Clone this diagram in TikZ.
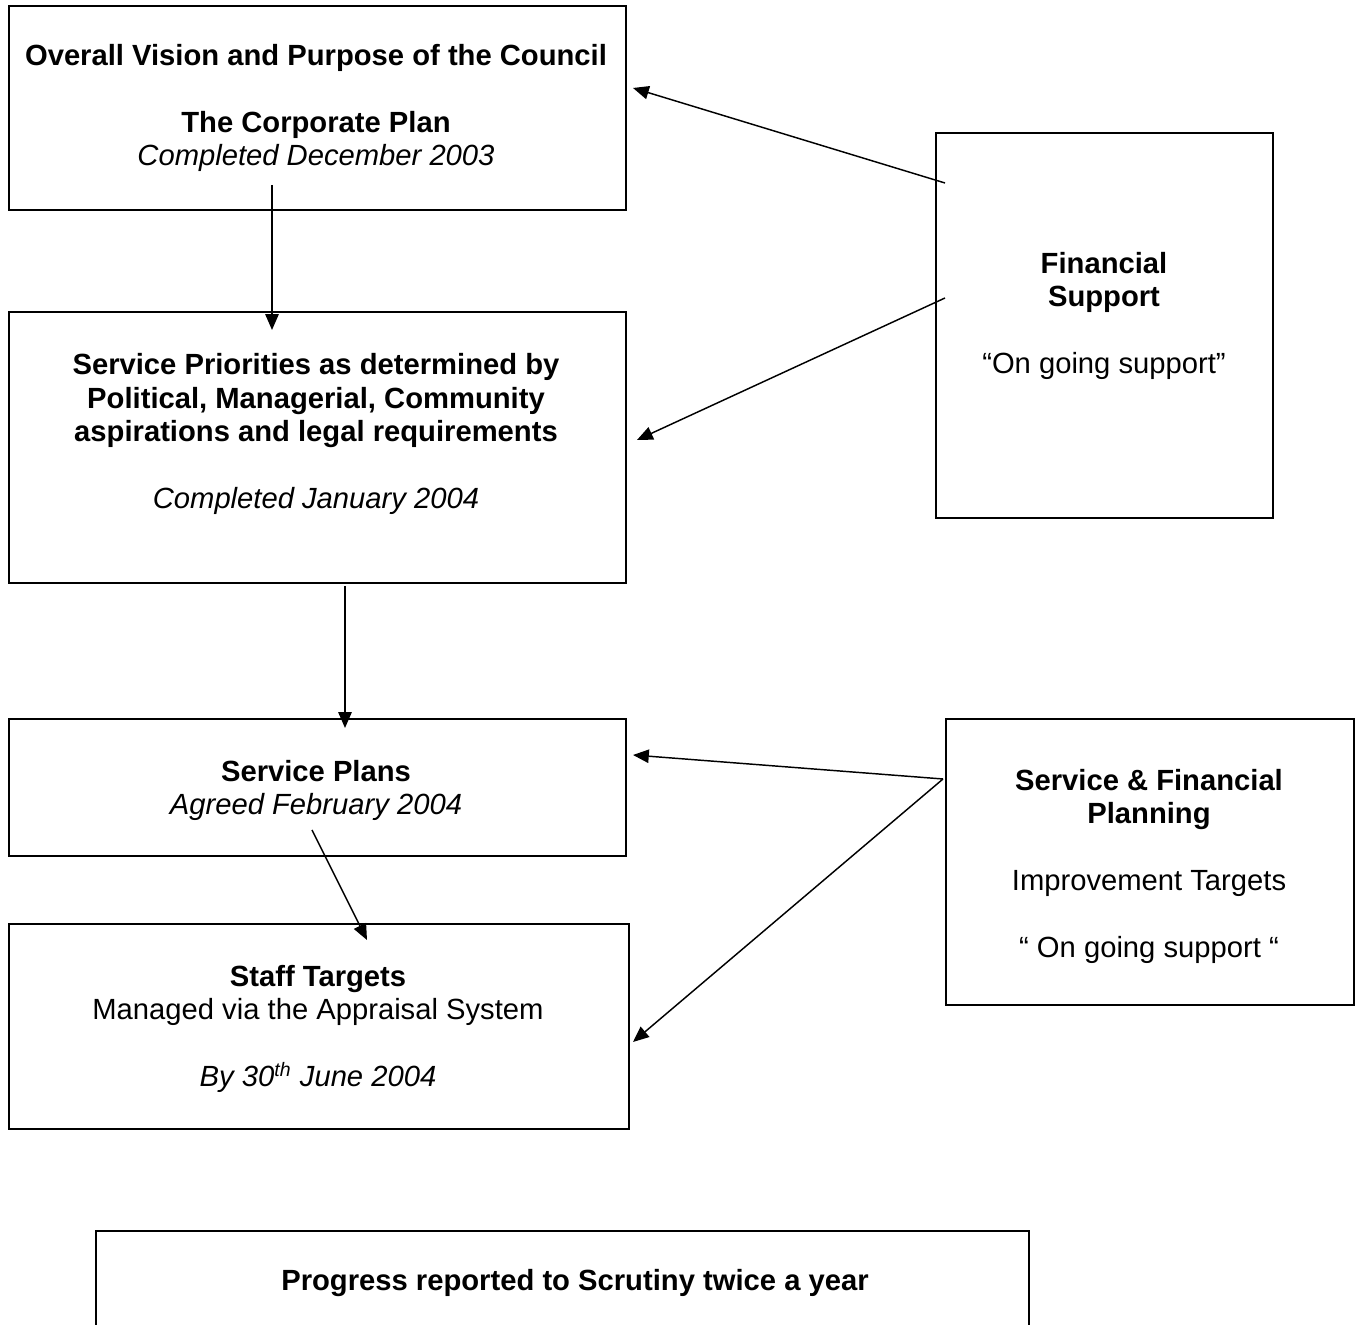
\documentclass[tikz,border=0pt]{standalone}
\usepackage{fontspec}
\setmainfont{Liberation Sans}
\usetikzlibrary{arrows.meta}

\newcommand{\pxu}{0.411pt}

\begin{document}
\begin{tikzpicture}[x=0.411pt,y=-0.411pt,
	box/.style={draw=black,line width=0.8pt,rectangle,inner sep=0pt,anchor=north west},
	txt/.style={inner sep=0pt,anchor=base,align=center,font=\fontsize{12}{13.8}\selectfont},
	arr/.style={-{Triangle[length=6.5pt,width=5.5pt]},line width=0.6pt}]
\useasboundingbox[fill=white] (0,0) rectangle (1359,1325);

% boxes
\node[box,minimum width=617*\pxu,minimum height=204*\pxu] (vision) at (8,5) {};
\node[box,minimum width=617*\pxu,minimum height=271*\pxu] (prio) at (8,311) {};
\node[box,minimum width=617*\pxu,minimum height=137*\pxu] (plans) at (8,718) {};
\node[box,minimum width=620*\pxu,minimum height=205*\pxu] (staff) at (8,923) {};
\node[box,minimum width=337*\pxu,minimum height=385*\pxu] (fin) at (935,132) {};
\node[box,minimum width=408*\pxu,minimum height=286*\pxu] (sfp) at (945,718) {};
\node[box,minimum width=933*\pxu,minimum height=130*\pxu] (scrut) at (95,1230) {};

% texts (anchored at the baseline of the last line)
\node[txt] (visiontxt) at (316,166) {\bfseries Overall Vision and Purpose of the Council\\[13.8pt]
	\bfseries The Corporate Plan\\ \itshape Completed December 2003};
\node[txt] (priotxt) at (316,509) {\bfseries Service Priorities as determined by\\
	\bfseries Political, Managerial, Community\\
	\bfseries aspirations and legal requirements\\[13.8pt]
	\itshape Completed January 2004};
\node[txt] (planstxt) at (316,815) {\bfseries Service Plans\\ \itshape Agreed February 2004};
\node[txt] (stafftxt) at (318,1087) {\bfseries Staff Targets\\ Managed via the Appraisal System\\[13.8pt]
	\itshape By 30\textsuperscript{th} June 2004};
\node[txt] (fintxt) at (1104,374) {\bfseries Financial\\ \bfseries Support\\[13.8pt]
	“On going support”};
\node[txt] (sfptxt) at (1149,958) {\bfseries Service \& Financial\\ \bfseries Planning\\[13.8pt]
	Improvement Targets\\[13.8pt] “ On going support “};
\node[txt] (scruttxt) at (575,1291) {\bfseries Progress reported to Scrutiny twice a year};

% arrow ends
\coordinate (v1) at (272,185);
\coordinate (p1) at (272,330);
\coordinate (p2) at (345,586);
\coordinate (s1) at (345,728);
\coordinate (s2) at (312,830);
\coordinate (t1) at (367,940);
\coordinate (f1) at (945,183);
\coordinate (f2) at (945,298);
\coordinate (v2) at (633,88);
\coordinate (p3) at (637,440);
\coordinate (q1) at (943,779);
\coordinate (s3) at (633,755);
\coordinate (t2) at (633,1042);

\draw[arr] (v1) -- (p1);
\draw[arr] (p2) -- (s1);
\draw[arr] (s2) -- (t1);
\draw[arr] (f1) -- (v2);
\draw[arr] (f2) -- (p3);
\draw[arr] (q1) -- (s3);
\draw[arr] (q1) -- (t2);
\end{tikzpicture}
\end{document}
